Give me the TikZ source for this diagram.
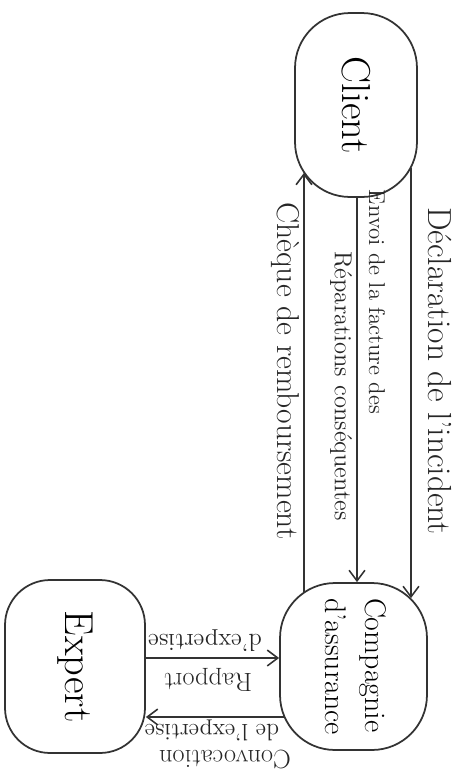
\documentclass[tikz,border=0pt]{standalone}
\usepackage{tikz}
\usepackage{xcolor}
\usepackage{graphicx}
\usetikzlibrary{calc,arrows.meta}
\newcommand{\FN}{\fontsize{23}{26}\selectfont}
\newcommand{\FC}{\fontsize{17}{23}\selectfont}
\newcommand{\FL}{\fontsize{18}{21}\selectfont}
\newcommand{\FE}{\fontsize{15}{18}\selectfont}

\begin{document}
\begin{tikzpicture}[x=0.02cm,y=-0.02cm]
\tikzstyle{bulle}=[draw=black!80,line width=1pt,rounded corners=1.1cm,inner sep=0pt,font=\FN]
\tikzstyle{fleche}=[black!80,line width=0.9pt,-{Straight Barb[length=6pt,width=9pt]}]
\tikzstyle{texto}=[draw=none,fill=none,black!85,font=\FL,inner sep=0pt]

\useasboundingbox (0,0) rectangle (460,779);

\node[bulle,minimum width=2.44cm,minimum height=3.68cm] (client) at (356,105) {\rotatebox{-90}{Client}};
\node[bulle,minimum width=2.94cm,minimum height=3.34cm,font=\FC] (cie) at (353.5,666.5)
  {\rotatebox{-90}{\begin{tabular}{@{}l@{}}Compagnie\\d'assurance\end{tabular}}};
\node[bulle,minimum width=2.8cm,minimum height=3.46cm,rounded corners=0.9cm] (expert) at (75,666.5) {\rotatebox{-90}{Expert}};

\coordinate (xdecl) at (411,0);
\coordinate (xenvoi) at (357,0);
\coordinate (xcheque) at (304,0);
\coordinate (yrapport) at (0,658);
\coordinate (yconvoc) at (0,717);

\draw[fleche] ($(client.south -| xdecl)+(0,-30)$) -- ($(cie.north -| xdecl)+(0,16)$);
\draw[fleche] (client.south -| xenvoi) -- (cie.north -| xenvoi);
\draw[fleche] ($(cie.north -| xcheque)+(0,10)$) -- ($(client.south -| xcheque)+(0,-25)$);
\draw[fleche] (expert.east |- yrapport) -- (cie.west |- yrapport);
\draw[fleche] ($(cie.west |- yconvoc)+(5,0)$) -- (expert.east |- yconvoc);

\node[texto,rotate=-90,font=\fontsize{19}{22}\selectfont] (ldecl) at (440,371) {Déclaration de l'incident};
\node[texto,rotate=-90,font=\fontsize{13}{15}\selectfont] (lenvoi) at (377,302) {Envoi de la facture des};
\node[texto,rotate=-90,font=\fontsize{14}{16}\selectfont] (lrepar) at (341,386) {Réparations conséquentes};
\node[texto,rotate=-90] (lcheque) at (285,371) {Chèque de remboursement};

\node[texto,rotate=180,font=\fontsize{14}{16}\selectfont] (lexpertise) at (205,641) {d'expertise};
\node[texto,rotate=180,font=\FE] (lrapport) at (208,680) {Rapport};
\node[texto,rotate=180,font=\fontsize{13.5}{16}\selectfont] (lconvoc2) at (212,730) {de l'expertise};
\node[texto,rotate=180,font=\FE] (lconvoc1) at (225,759) {Convocation};
\end{tikzpicture}
\end{document}
